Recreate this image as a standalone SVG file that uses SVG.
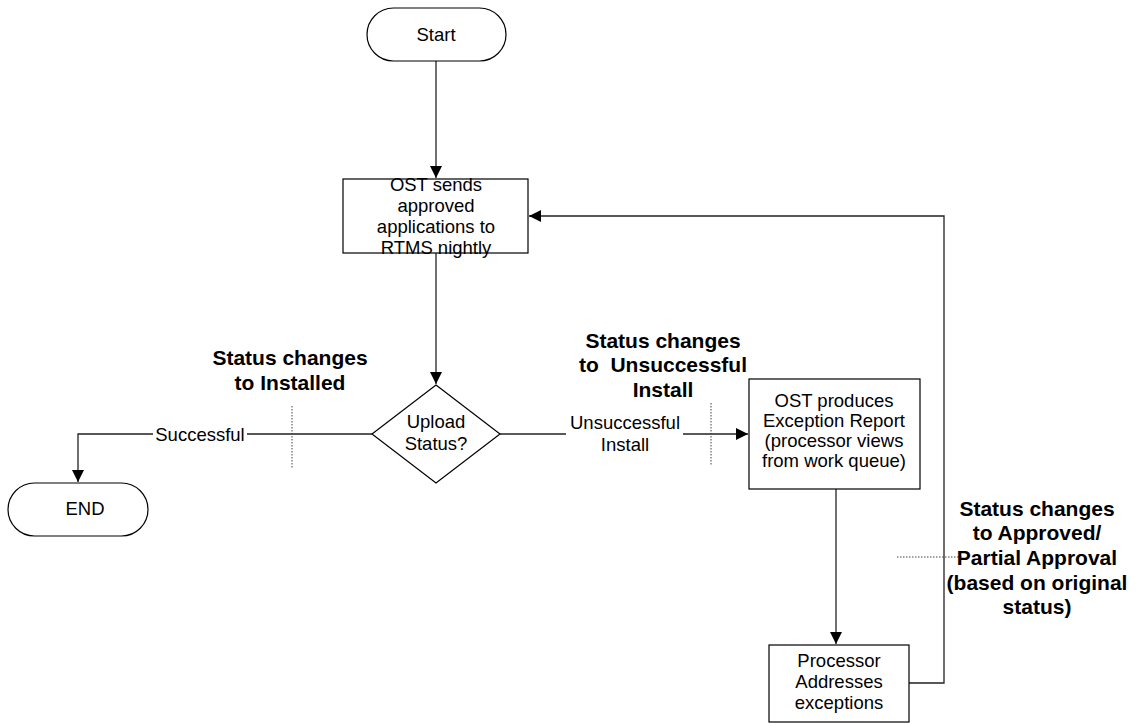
<svg xmlns="http://www.w3.org/2000/svg" width="1136" height="723" viewBox="0 0 1136 723">
<style>
.n{font-family:"Liberation Sans",Arial,sans-serif;font-size:18.5px;fill:#000;text-anchor:middle}
.b{font-family:"Liberation Sans",Arial,sans-serif;font-size:21px;font-weight:bold;fill:#000;text-anchor:middle}
.s{fill:#fff;stroke:#000;stroke-width:1.2}
.c{fill:none;stroke:#222;stroke-width:1.3}
.d{fill:none;stroke:#444;stroke-width:1;stroke-dasharray:1.5 1.5}
</style>
<defs>
<marker id="a" viewBox="0 0 12 12" refX="12" refY="6" markerWidth="12" markerHeight="12" markerUnits="userSpaceOnUse" orient="auto">
<path d="M0,0 L12,6 L0,12 z" fill="#000"/>
</marker>
</defs>
<rect width="1136" height="723" fill="#fff"/>
<g id="connectors">
<path class="c" d="M436,61 V178" marker-end="url(#a)"/>
<path class="c" d="M436,253 V384" marker-end="url(#a)"/>
<path class="c" d="M372,434 H78 V482" marker-end="url(#a)"/>
<path class="c" d="M500,434 H748" marker-end="url(#a)"/>
<path class="c" d="M836,489 V644" marker-end="url(#a)"/>
<path class="c" d="M909,683 H944 V216 H529" marker-end="url(#a)"/>
<rect x="153" y="424" width="94" height="20" fill="#fff"/>
<rect x="566" y="410" width="117" height="46" fill="#fff"/>
<text class="n" x="200" y="441">Successful</text>
<text class="n" x="625" y="429">Unsuccessful</text>
<text class="n" x="625" y="451">Install</text>
<path class="d" d="M292,406 V468"/>
<path class="d" d="M711,403 V465"/>
<path class="d" d="M897,557 H962"/>
</g>
<g id="start">
<rect class="s" x="367" y="8" width="139" height="53" rx="26.5"/>
<text class="n" x="436" y="41">Start</text>
</g>
<g id="ost-sends">
<rect class="s" x="343" y="179" width="185" height="74"/>
<text class="n" x="436" y="191">OST sends</text>
<text class="n" x="436" y="212">approved</text>
<text class="n" x="436" y="233">applications to</text>
<text class="n" x="436" y="254">RTMS nightly</text>
</g>
<g id="upload-status">
<path class="s" d="M436,385 L500,434 L436,483 L372,434 z"/>
<text class="n" x="436" y="428">Upload</text>
<text class="n" x="436" y="450">Status?</text>
</g>
<g id="end">
<rect class="s" x="8" y="483" width="140" height="53" rx="26.5"/>
<text class="n" x="85" y="515">END</text>
</g>
<g id="ost-produces">
<rect class="s" x="749" y="379" width="171" height="110"/>
<text class="n" x="834" y="407">OST produces</text>
<text class="n" x="834" y="427">Exception Report</text>
<text class="n" x="834" y="447">(processor views</text>
<text class="n" x="834" y="467">from work queue)</text>
</g>
<g id="processor">
<rect class="s" x="769" y="645" width="140" height="77"/>
<text class="n" x="839" y="667">Processor</text>
<text class="n" x="839" y="688">Addresses</text>
<text class="n" x="839" y="709">exceptions</text>
</g>
<g id="label-installed">
<text class="b" x="290" y="365">Status changes</text>
<text class="b" x="290" y="390">to Installed</text>
</g>
<g id="label-unsuccessful">
<text class="b" x="663" y="348">Status changes</text>
<text class="b" x="663" y="372" xml:space="preserve">to  Unsuccessful</text>
<text class="b" x="663" y="397">Install</text>
</g>
<g id="label-approved">
<text class="b" x="1037" y="516">Status changes</text>
<text class="b" x="1037" y="540">to Approved/</text>
<text class="b" x="1037" y="565">Partial Approval</text>
<text class="b" x="1037" y="590">(based on original</text>
<text class="b" x="1037" y="614">status)</text>
</g>
</svg>
